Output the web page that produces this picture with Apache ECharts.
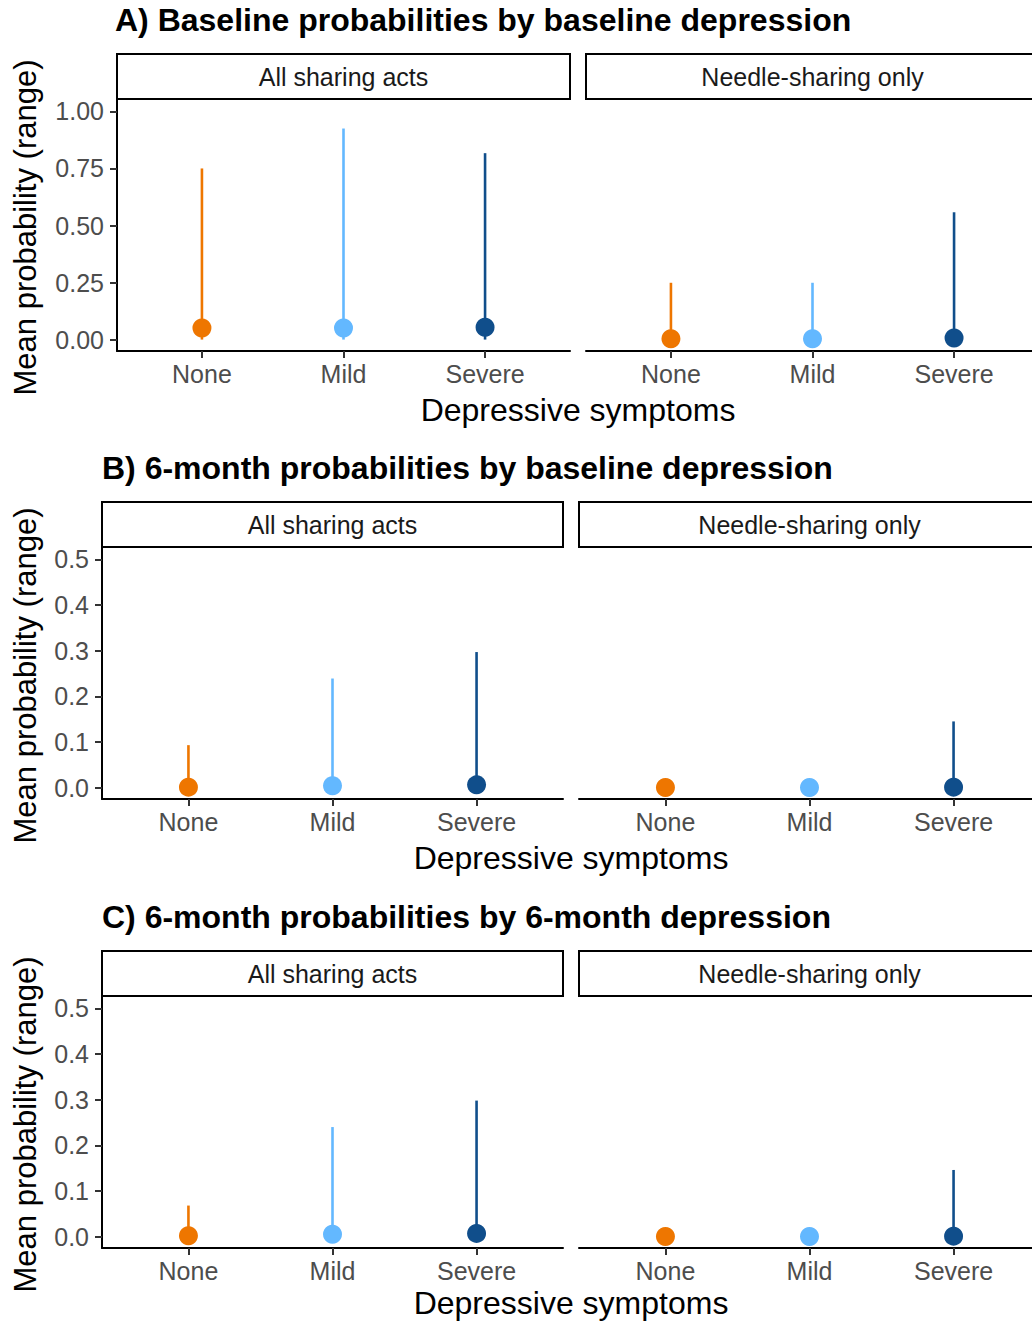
<!DOCTYPE html>
<html lang="en">
<head>
    <meta charset="UTF-8">
    <title>Sharing probabilities by depression</title>
    <script src="https://cdn.jsdelivr.net/npm/echarts@6/dist/echarts.min.js"></script>
    <style>
        html, body { margin: 0; padding: 0; background: #fff; overflow: hidden; }
        /* the right facets run a little past the page edge, as in the original figure */
        #chart { width: 1045px; height: 1322px; }
    </style>
</head>
<body>
    <div id="chart"></div>
    <script>
        // categories and colours
        var cats = ['None', 'Mild', 'Severe'];
        var colors = ['#EE7600', '#63B8FF', '#104E8B'];
        var facets = ['All sharing acts', 'Needle-sharing only'];

        // A) baseline probabilities by baseline depression
        var aAllMean = [0.051, 0.051, 0.054];
        var aAllMin = [0, 0, 0];
        var aAllMax = [0.750, 0.925, 0.817];
        var aNeedleMean = [0.004, 0.004, 0.007];
        var aNeedleMin = [0, 0, 0];
        var aNeedleMax = [0.249, 0.249, 0.558];

        // B) 6-month probabilities by baseline depression
        var bAllMean = [0.001, 0.004, 0.006];
        var bAllMin = [0, 0, 0];
        var bAllMax = [0.093, 0.239, 0.297];
        var bNeedleMean = [0.000, 0.000, 0.001];
        var bNeedleMin = [0, 0, 0];
        var bNeedleMax = [0.000, 0.000, 0.145];

        // C) 6-month probabilities by 6-month depression
        var cAllMean = [0.002, 0.005, 0.007];
        var cAllMin = [0, 0, 0];
        var cAllMax = [0.068, 0.240, 0.298];
        var cNeedleMean = [0.000, 0.000, 0.001];
        var cNeedleMin = [0, 0, 0];
        var cNeedleMax = [0.000, 0.000, 0.146];

        // tick labels
        var ticksA = [0, 0.25, 0.5, 0.75, 1];
        var ticksBC = [0, 0.1, 0.2, 0.3, 0.4, 0.5];

        var FONT = '"Liberation Sans", Arial, Helvetica, sans-serif';

        // layout of the three panels
        var panels = [
            { title: 'A) Baseline probabilities by baseline depression', titleX: 115, titleY: 20,
              top: 100, height: 251, lefts: [117, 586], width: 453, stripTop: 54,
              yMin: -0.05, yMax: 1.05, ticks: ticksA, digits: 2, xTitleX: 578, xTitleY: 410,
              series: [[aAllMean, aAllMin, aAllMax], [aNeedleMean, aNeedleMin, aNeedleMax]] },
            { title: 'B) 6-month probabilities by baseline depression', titleX: 102, titleY: 468,
              top: 548, height: 251, lefts: [102, 579], width: 461, stripTop: 502,
              yMin: -0.025, yMax: 0.525, ticks: ticksBC, digits: 1, xTitleX: 571, xTitleY: 858,
              series: [[bAllMean, bAllMin, bAllMax], [bNeedleMean, bNeedleMin, bNeedleMax]] },
            { title: 'C) 6-month probabilities by 6-month depression', titleX: 102, titleY: 917,
              top: 997, height: 251, lefts: [102, 579], width: 461, stripTop: 951,
              yMin: -0.025, yMax: 0.525, ticks: ticksBC, digits: 1, xTitleX: 571, xTitleY: 1303,
              series: [[cAllMean, cAllMin, cAllMax], [cNeedleMean, cNeedleMin, cNeedleMax]] }
        ];

        var grid = [], xAxis = [], yAxis = [], series = [], graphic = [];

        panels.forEach(function (p) {
            // panel title
            graphic.push({
                type: 'text', x: p.titleX, y: p.titleY,
                style: { text: p.title, font: 'bold 32px ' + FONT, fill: '#000', textVerticalAlign: 'middle' }
            });
            // y axis title
            graphic.push({
                type: 'text', x: 25, y: p.top + p.height / 2 + 2, rotation: Math.PI / 2,
                style: { text: 'Mean probability (range)', font: '31px ' + FONT, fill: '#000',
                         textAlign: 'center', textVerticalAlign: 'middle' }
            });
            // x axis title
            graphic.push({
                type: 'text', x: p.xTitleX, y: p.xTitleY,
                style: { text: 'Depressive symptoms', font: '32px ' + FONT, fill: '#000',
                         textAlign: 'center', textVerticalAlign: 'middle' }
            });

            p.lefts.forEach(function (left, f) {
                var idx = grid.length;
                // facet strip
                graphic.push({
                    type: 'rect',
                    shape: { x: left, y: p.stripTop, width: p.width, height: p.top - p.stripTop - 1 },
                    style: { fill: '#fff', stroke: '#000', lineWidth: 2 }
                });
                graphic.push({
                    type: 'text', x: left + p.width / 2, y: (p.stripTop + p.top) / 2,
                    style: { text: facets[f], font: '25px ' + FONT, fill: '#1a1a1a',
                             textAlign: 'center', textVerticalAlign: 'middle' }
                });

                grid.push({ left: left, top: p.top, width: p.width, height: p.height });
                xAxis.push({
                    type: 'value', gridIndex: idx, min: -0.6, max: 2.6,
                    splitLine: { show: false },
                    axisLine: { show: true, onZero: false, lineStyle: { color: '#000', width: 2 } },
                    axisTick: { show: true, length: 7, customValues: [0, 1, 2], lineStyle: { color: '#333', width: 2 } },
                    axisLabel: { customValues: [0, 1, 2], margin: 10, fontSize: 25, fontFamily: FONT, color: '#4d4d4d',
                                 formatter: function (v) { return cats[Math.round(v)]; } }
                });
                yAxis.push({
                    type: 'value', gridIndex: idx, min: p.yMin, max: p.yMax,
                    show: f === 0,
                    splitLine: { show: false },
                    axisLine: { show: true, onZero: false, lineStyle: { color: '#000', width: 2 } },
                    axisTick: { show: true, length: 7, customValues: p.ticks, lineStyle: { color: '#333', width: 2 } },
                    axisLabel: { customValues: p.ticks, margin: 13, fontSize: 25, fontFamily: FONT, color: '#4d4d4d',
                                 formatter: (function (d) { return function (v) { return v.toFixed(d); }; })(p.digits) }
                });

                var s = p.series[f];
                var rangeData = cats.map(function (c, i) { return [i, s[1][i], s[2][i]]; });
                var meanData = cats.map(function (c, i) {
                    return { value: [i, s[0][i]], itemStyle: { color: colors[i], opacity: 1 } };
                });

                series.push({
                    type: 'custom', xAxisIndex: idx, yAxisIndex: idx, data: rangeData, z: 2,
                    renderItem: function (params, api) {
                        var i = api.value(0);
                        var lo = api.coord([i, api.value(1)]);
                        var hi = api.coord([i, api.value(2)]);
                        return {
                            type: 'line',
                            shape: { x1: lo[0], y1: lo[1], x2: hi[0], y2: hi[1] },
                            style: { stroke: colors[i], lineWidth: 2.6 }
                        };
                    }
                });
                series.push({
                    type: 'scatter', xAxisIndex: idx, yAxisIndex: idx, data: meanData,
                    symbol: 'circle', symbolSize: 19, z: 3,
                    itemStyle: { opacity: 1 }
                });
            });
        });

        var myChart = echarts.init(document.getElementById('chart'), null, { renderer: 'svg' });
        myChart.setOption({
            animation: false,
            backgroundColor: '#fff',
            grid: grid,
            xAxis: xAxis,
            yAxis: yAxis,
            series: series,
            graphic: graphic
        });
    </script>
</body>
</html>
